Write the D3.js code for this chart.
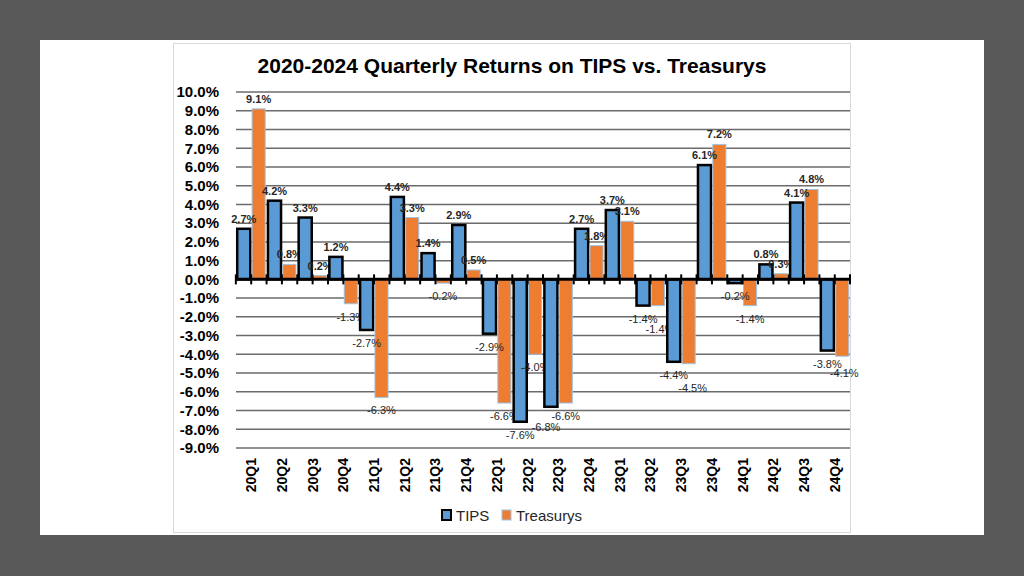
<!DOCTYPE html>
<html>
<head>
<meta charset="utf-8">
<script src="https://cdn.jsdelivr.net/npm/d3@7"></script>
<style>
  body { margin: 0; background: #595959; }
  #chart-area { width: 1024px; height: 576px; }
</style>
</head>
<body>
<div id="chart-area"></div>
<script>
// quarterly returns (percent)
let quarters = ["20Q1","20Q2","20Q3","20Q4","21Q1","21Q2","21Q3","21Q4","22Q1","22Q2",
                "22Q3","22Q4","23Q1","23Q2","23Q3","23Q4","24Q1","24Q2","24Q3","24Q4"];
let tips = [2.7, 4.2, 3.3, 1.2, -2.7, 4.4, 1.4, 2.9, -2.9, -7.6,
            -6.8, 2.7, 3.7, -1.4, -4.4, 6.1, -0.2, 0.8, 4.1, -3.8];
let treasurys = [9.1, 0.8, 0.2, -1.3, -6.3, 3.3, -0.2, 0.5, -6.6, -4.0,
                 -6.6, 1.8, 3.1, -1.4, -4.5, 7.2, -1.4, 0.3, 4.8, -4.1];
let seriesNames = ["TIPS", "Treasurys"];
let yTicks = d3.range(-9, 11, 1);

let width = 1024,
height = 576;

// excel nudged a few crowded labels down/sideways
let labelNudge = {
    "23Q2|Treasurys": [2, 10],
    "23Q3|Treasurys": [4, 11],
    "22Q3|TIPS": [-5, 7],
    "24Q4|Treasurys": [2, 4]
};

let pct = d => d3.format(".1f")(d).replace("\u2212", "-") + "%";

let svg = d3.select("#chart-area").append("svg")
    .attr("width", width)
    .attr("height", height)
    .style("font-family", "'Liberation Sans', Arial, sans-serif");

// white card + light frame
svg.append("rect")
    .attr("x", 40).attr("y", 40)
    .attr("width", 944).attr("height", 495)
    .attr("fill", "white");
svg.append("rect")
    .attr("x", 173.5).attr("y", 43.5)
    .attr("width", 677).attr("height", 489)
    .attr("fill", "white")
    .attr("stroke", "#d9d9d9");

let plot = {left: 236, right: 850, top: 92, bottom: 448};

let y = d3.scaleLinear()
    .domain([-9, 10])
    .range([plot.bottom, plot.top]);

let x0 = d3.scaleBand()
    .domain(quarters)
    .range([plot.left, plot.right])
    .paddingInner(0.09)
    .paddingOuter(0.04);

let x1 = d3.scaleBand()
    .domain(seriesNames)
    .range([0, x0.bandwidth()])
    .paddingInner(0.12);

let color = d3.scaleOrdinal()
    .domain(seriesNames)
    .range(["#5b9bd5", "#ed7d31"]);

// title
svg.append("text")
    .attr("x", 512).attr("y", 73)
    .attr("text-anchor", "middle")
    .attr("font-size", 21)
    .attr("font-weight", "bold")
    .attr("fill", "#000")
    .text("2020-2024 Quarterly Returns on TIPS vs. Treasurys");

// gridlines
svg.append("g")
    .selectAll("line")
    .data(yTicks.filter(d => d !== 0))
    .enter()
    .append("line")
    .attr("x1", plot.left).attr("x2", plot.right)
    .attr("y1", d => y(d)).attr("y2", d => y(d))
    .attr("stroke", "#6b6b6b")
    .attr("stroke-width", 1.5);

// y axis labels
let yAxis = d3.axisLeft(y)
    .tickValues(yTicks)
    .tickSize(0)
    .tickPadding(0)
    .tickFormat(pct);

svg.append("g")
    .attr("transform", "translate(219,0)")
    .call(yAxis)
    .call(g => g.select(".domain").remove())
    .selectAll("text")
    .attr("font-size", 15)
    .attr("font-weight", "bold")
    .attr("fill", "#000")
    .style("font-family", "'Liberation Sans', Arial, sans-serif");

let rows = quarters.map((q, i) => ({q: q, values: [
    {q: q, name: "TIPS", value: tips[i]},
    {q: q, name: "Treasurys", value: treasurys[i]}
]}));

let groups = svg.append("g")
    .selectAll("g")
    .data(rows)
    .enter()
    .append("g")
    .attr("transform", d => "translate(" + x0(d.q) + ",0)");

groups.selectAll("rect")
    .data(d => d.values)
    .enter()
    .append("rect")
    .attr("x", d => x1(d.name))
    .attr("width", x1.bandwidth())
    .attr("y", d => y(Math.max(0, d.value)))
    .attr("height", d => Math.abs(y(d.value) - y(0)))
    .attr("fill", d => color(d.name))
    .attr("stroke", d => d.name === "TIPS" ? "#000" : "#9dc3e6")
    .attr("stroke-width", d => d.name === "TIPS" ? 2.5 : 1);

// zero line with tick marks at band edges and centers
svg.append("line")
    .attr("x1", plot.left).attr("x2", plot.right)
    .attr("y1", y(0)).attr("y2", y(0))
    .attr("stroke", "#000")
    .attr("stroke-width", 3);

let tickXs = [];
quarters.forEach(q => {
    tickXs.push(x0(q) - x0.step() * x0.paddingInner() / 2);
    tickXs.push(x0(q) + x0.bandwidth() / 2);
});
tickXs.push(plot.right);

svg.append("g")
    .selectAll("line")
    .data(tickXs)
    .enter()
    .append("line")
    .attr("x1", d => d).attr("x2", d => d)
    .attr("y1", y(0) - 5).attr("y2", y(0) + 5)
    .attr("stroke", "#000")
    .attr("stroke-width", 2);

// data labels
let nudge = d => labelNudge[d.q + "|" + d.name] || [0, 0];

groups.selectAll("text")
    .data(d => d.values)
    .enter()
    .append("text")
    .attr("x", d => x1(d.name) + x1.bandwidth() / 2 + nudge(d)[0])
    .attr("y", d => (d.value >= 0 ? y(d.value) - 6 : y(d.value) + 17) + nudge(d)[1])
    .attr("text-anchor", "middle")
    .attr("font-size", 11)
    .attr("font-weight", d => d.value >= 0 ? "bold" : "normal")
    .attr("fill", "#262626")
    .text(d => pct(d.value));

// category labels, rotated
let xAxis = d3.axisBottom(x0)
    .tickSize(0)
    .tickPadding(0);

svg.append("g")
    .attr("transform", "translate(0," + (plot.bottom + 10) + ")")
    .call(xAxis)
    .call(g => g.select(".domain").remove())
    .selectAll("text")
    .attr("transform", "rotate(-90)")
    .attr("text-anchor", "end")
    .attr("dy", "0.35em")
    .attr("y", 0)
    .attr("x", 0)
    .attr("font-size", 14)
    .attr("font-weight", "bold")
    .attr("fill", "#000")
    .style("font-family", "'Liberation Sans', Arial, sans-serif");

// legend
let legend = svg.append("g")
    .attr("transform", "translate(441,515)");

let legendX = [0, 60];
seriesNames.forEach((name, i) => {
    let item = legend.append("g").attr("transform", "translate(" + legendX[i] + ",0)");
    item.append("rect")
        .attr("x", 1).attr("y", -5)
        .attr("width", 9).attr("height", 10)
        .attr("fill", color(name))
        .attr("stroke", name === "TIPS" ? "#000" : "#9dc3e6")
        .attr("stroke-width", name === "TIPS" ? 2 : 1);
    item.append("text")
        .attr("x", 15).attr("y", 5.5)
        .attr("font-size", 15)
        .attr("fill", "#262626")
        .text(name);
});
</script>
</body>
</html>
